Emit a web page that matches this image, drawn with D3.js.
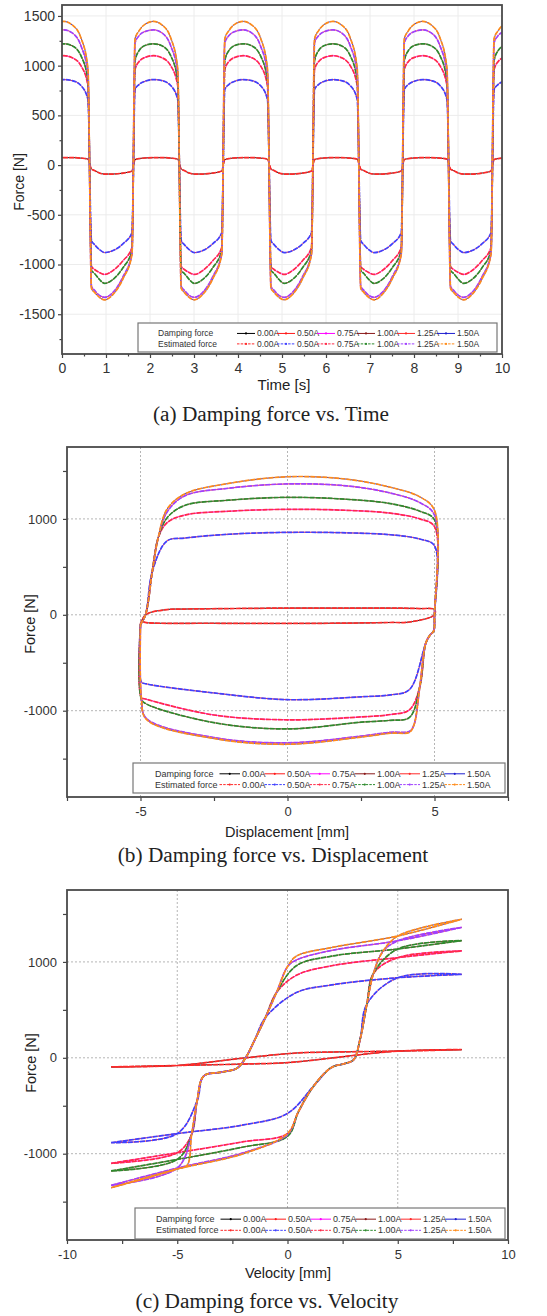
<!DOCTYPE html>
<html>
<head>
<meta charset="utf-8">
<script src="https://cdn.jsdelivr.net/npm/d3@7"></script>
<style>
body { margin: 0; background: #fff; }
svg { display: block; font-family: "Liberation Sans", Arial, sans-serif; }
.cap { font-family: "Liberation Serif", "Times New Roman", serif; }
</style>
</head>
<body>
<svg id="chart" width="547" height="1316"></svg>
<script>
// ---- donnees ----
var currents = ["0.00A", "0.50A", "0.75A", "1.00A", "1.25A", "1.50A"];
var dampColors = ["#000000", "#ff1a1a", "#ff00ff", "#8b1a1a", "#ff2a2a", "#1f1fd0"];
var estColors = ["#ff2a2a", "#4040ff", "#ff2a4a", "#2e8b2e", "#a040ff", "#ff8c1a"];

// (a) force / temps : fronts montants de chaque cycle, points d'un cycle
var cycleRise = [-0.41, 1.63, 3.67, 5.71, 7.75, 9.79];
var tauPos = [0.03, 0.12, 0.27, 0.45, 0.64, 0.84, 1.0];
var tauNeg = [1.08, 1.15, 1.26, 1.38, 1.57, 1.80, 2.0];
var posLobe = [
    [55, 65, 72, 75, 75, 70, 60],
    [760, 810, 845, 860, 850, 800, 660],
    [960, 1040, 1085, 1100, 1080, 1000, 800],
    [1050, 1150, 1205, 1220, 1200, 1100, 850],
    [1230, 1300, 1345, 1360, 1330, 1200, 920],
    [1270, 1350, 1420, 1445, 1410, 1280, 970]
];
var negLobe = [
    [-40, -55, -80, -90, -90, -80, -60],
    [-760, -800, -850, -880, -860, -790, -680],
    [-1020, -1050, -1080, -1100, -1060, -960, -830],
    [-1060, -1090, -1150, -1190, -1150, -1030, -860],
    [-1220, -1260, -1310, -1330, -1280, -1120, -890],
    [-1240, -1280, -1330, -1355, -1300, -1140, -900]
];

// (b) force / deplacement
var dispUpX = [-4.1, -3.5, -2, 0, 2, 3.5, 4.5, 5.0];
var dispUpF = [
    [55, 60, 65, 70, 70, 70, 65, 55],
    [770, 800, 840, 860, 855, 835, 790, 720],
    [960, 1040, 1080, 1100, 1090, 1060, 1000, 920],
    [1010, 1140, 1195, 1225, 1205, 1160, 1080, 990],
    [1070, 1240, 1320, 1365, 1345, 1270, 1170, 1040],
    [1100, 1260, 1370, 1440, 1415, 1330, 1230, 1090]
];
var dispDownX = [4.15, 3.5, 2.5, 0, -2.5, -4.8, -4.97];
var dispDownF = [
    [-75, -80, -85, -90, -88, -82, -70],
    [-780, -835, -855, -885, -815, -720, -700],
    [-990, -1040, -1065, -1095, -1045, -880, -860],
    [-1070, -1100, -1120, -1190, -1125, -930, -880],
    [-1215, -1225, -1265, -1335, -1280, -1080, -870],
    [-1225, -1235, -1275, -1350, -1290, -1090, -870]
];
var riseX = [-5.0, -4.83, -4.6, -4.4];
var riseF = [-100, 0, 450, 800];
var dropX = [5.0, 4.97, 4.85, 4.7, 4.5, 4.3];
var dropF = [0, -170, -210, -300, -750, -1150];

// (c) force / vitesse
var velLowX = [-8, -5, -2, 0];
var velLowF = [
    [-95, -80, -65, -50],
    [-885, -790, -700, -580],
    [-1100, -990, -875, -790],
    [-1180, -1060, -930, -820],
    [-1330, -1150, -990, -800],
    [-1355, -1160, -1000, -790]
];
var velUpX = [0.4, 2, 5, 7.9];
var velUpF = [
    [50, 60, 70, 85],
    [680, 760, 835, 870],
    [860, 960, 1045, 1115],
    [960, 1060, 1135, 1222],
    [1020, 1120, 1220, 1360],
    [1060, 1150, 1270, 1445]
];
var accelX = [0.5, 1.2, 2.0, 2.6, 3.0, 3.3, 3.6, 3.9, 4.3];
var accelF = [-560, -290, -100, -60, -20, 200, 560, 880, 1100];
var decelX = [0, -0.5, -1.0, -1.5, -1.9, -2.3, -3.0, -3.8, -4.1, -4.35, -4.55];
var decelF = [950, 680, 420, 180, 0, -110, -150, -190, -450, -800, -1120];

// ---- construction ----
var svg = d3.select("#chart");
svg.append("rect").attr("width", 547).attr("height", 1316).attr("fill", "#fff");

var xa = d3.scaleLinear().domain([0, 10]).range([62, 502]);
var ya = d3.scaleLinear().domain([-1900, 1610]).range([354, 5]);
var xb = d3.scaleLinear().domain([-7.5, 7.5]).range([67, 508]);
var yb = d3.scaleLinear().domain([-1900, 1750]).range([797, 447]);
var xc = d3.scaleLinear().domain([-10, 10]).range([67, 508]);
var yc = d3.scaleLinear().domain([-1900, 1750]).range([1240, 890]);

function fmt(d) { return String(d); }

function cadre(id, x, y, opt) {
    var x0 = x.range()[0], x1 = x.range()[1], y0 = y.range()[1], y1 = y.range()[0];
    var g = svg.append("g");
    svg.append("clipPath").attr("id", id).append("rect")
        .attr("x", x0).attr("y", y0).attr("width", x1 - x0).attr("height", y1 - y0);

    // grille
    var grid = g.append("g").attr("class", "grid");
    grid.selectAll("line.gx").data(opt.gridX).enter().append("line")
        .attr("x1", x).attr("x2", x).attr("y1", y0).attr("y2", y1);
    grid.selectAll("line.gy").data(opt.gridY).enter().append("line")
        .attr("y1", y).attr("y2", y).attr("x1", x0).attr("x2", x1);
    grid.selectAll("line")
        .attr("stroke", opt.gridColor)
        .attr("stroke-width", 1)
        .attr("stroke-dasharray", opt.gridDash);

    // axes
    g.append("g").attr("transform", "translate(0," + y1 + ")")
        .call(d3.axisBottom(x).tickValues(opt.xMajor).tickFormat(fmt).tickSize(4).tickPadding(opt.xPad));
    g.append("g").attr("transform", "translate(0," + y1 + ")")
        .call(d3.axisBottom(x).tickValues(opt.xMinor).tickFormat("").tickSize(opt.minorLen));
    g.append("g").attr("transform", "translate(" + x0 + ",0)")
        .call(d3.axisLeft(y).tickValues(opt.yMajor).tickFormat(fmt).tickSize(4).tickPadding(opt.yPad));
    g.append("g").attr("transform", "translate(" + x0 + ",0)")
        .call(d3.axisLeft(y).tickValues(opt.yMinor).tickFormat("").tickSize(opt.minorLen));
    g.selectAll(".domain").remove();
    g.selectAll(".tick line").attr("stroke", "#444").attr("stroke-width", 1.2);
    g.selectAll(".tick text")
        .attr("font-family", "'Liberation Sans', Arial, sans-serif")
        .attr("font-size", opt.fontSize).attr("fill", "#333");

    var plot = g.append("g").attr("clip-path", "url(#" + id + ")");
    g.append("rect")
        .attr("x", x0).attr("y", y0).attr("width", x1 - x0).attr("height", y1 - y0)
        .attr("fill", "none").attr("stroke", "#4a4a4a").attr("stroke-width", 1.8);
    return plot;
}

function traces(plot, line, series) {
    // courbes mesurees puis estimees par dessus
    series.forEach(function(pts, i) {
        plot.append("path").attr("d", line(pts)).attr("fill", "none")
            .attr("stroke", dampColors[i]).attr("stroke-width", 0.9);
    });
    series.forEach(function(pts, i) {
        plot.append("path").attr("d", line(pts)).attr("fill", "none")
            .attr("stroke", estColors[i]).attr("stroke-width", 1.7)
            .attr("stroke-dasharray", "5,1");
    });
}

function legende(box, textX, lab0, dx, fs) {
    var g = svg.append("g");
    g.append("rect").attr("x", box[0]).attr("y", box[1]).attr("width", box[2]).attr("height", box[3])
        .attr("fill", "#fff").attr("stroke", "#777").attr("stroke-width", 1.2);
    var rows = [["Damping force", dampColors, null], ["Estimated force", estColors, "2.5,1.2"]];
    var rowY = [box[1] + box[3] * 0.36, box[1] + box[3] * 0.72];
    rows.forEach(function(r, k) {
        var yy = rowY[k];
        g.append("text").attr("x", textX).attr("y", yy + fs * 0.35).attr("font-size", fs)
            .attr("fill", "#333").text(r[0]);
        currents.forEach(function(c, i) {
            var lx = lab0 + i * dx;
            g.append("line").attr("x1", lx - dx * 0.5).attr("x2", lx - 2)
                .attr("y1", yy).attr("y2", yy).attr("stroke", r[1][i]).attr("stroke-width", 1)
                .attr("stroke-dasharray", r[2]);
            g.append("circle").attr("cx", lx - dx * 0.25 - 1).attr("cy", yy).attr("r", 1.1).attr("fill", r[1][i]);
            g.append("text").attr("x", lx).attr("y", yy + fs * 0.35).attr("font-size", fs)
                .attr("fill", "#333").text(c);
        });
    });
}

function texte(x, y, s, size, cls, rot) {
    var t = svg.append("text").attr("text-anchor", "middle").attr("font-size", size)
        .attr("fill", "#222").text(s);
    if (cls) t.attr("class", cls);
    if (rot) t.attr("transform", "translate(" + x + "," + y + ") rotate(-90)");
    else t.attr("x", x).attr("y", y);
}

// ---------- (a) ----------
var pa = cadre("clipA", xa, ya, {
    gridX: d3.range(1, 10), gridY: [-1500, -1000, -500, 0, 500, 1000, 1500],
    gridColor: "#ececec", gridDash: null,
    xMajor: d3.range(0, 11), xMinor: d3.range(0.5, 10, 1),
    yMajor: [-1500, -1000, -500, 0, 500, 1000, 1500], yMinor: [-1750, -1250, -750, -250, 250, 750, 1250],
    minorLen: 2.5, xPad: 5, yPad: 3, fontSize: 14
});
var timeSeries = currents.map(function(c, i) {
    var pts = [];
    cycleRise.forEach(function(r) {
        tauPos.forEach(function(t, k) { pts.push([r + t, posLobe[i][k]]); });
        tauNeg.forEach(function(t, k) { pts.push([r + t, negLobe[i][k]]); });
    });
    return pts;
});
var lineA = d3.line().x(function(d) { return xa(d[0]); }).y(function(d) { return ya(d[1]); })
    .curve(d3.curveMonotoneX);
traces(pa, lineA, timeSeries);
legende([138, 323, 359, 29], 158, 257, 40, 8.5);
texte(284, 390, "Time [s]", 15);
texte(24, 182, "Force [N]", 14, null, true);
texte(271, 421, "(a) Damping force vs. Time", 21.3, "cap");

// ---------- (b) ----------
var pb = cadre("clipB", xb, yb, {
    gridX: [-5, 0, 5], gridY: [-1000, 0, 1000],
    gridColor: "#b5b5b5", gridDash: "2,2",
    xMajor: [-5, 0, 5], xMinor: [-7.5, -2.5, 2.5, 7.5],
    yMajor: [-1000, 0, 1000], yMinor: [-1500, -500, 500, 1500],
    minorLen: 4, xPad: 6, yPad: 6, fontSize: 13
});
var dispSeries = currents.map(function(c, i) {
    var up = dispUpF[i], dn = dispDownF[i], pts = [];
    riseX.forEach(function(x, k) { if (riseF[k] < up[0] - 40) pts.push([x, riseF[k]]); });
    dispUpX.forEach(function(x, k) { pts.push([x, up[k]]); });
    dropX.forEach(function(x, k) { if (dropF[k] > dn[0] + 40) pts.push([x, dropF[k]]); });
    dispDownX.forEach(function(x, k) { pts.push([x, dn[k]]); });
    pts.push(pts[0]);
    return pts;
});
var lineB = d3.line().x(function(d) { return xb(d[0]); }).y(function(d) { return yb(d[1]); })
    .curve(d3.curveCatmullRom.alpha(0.5));
traces(pb, lineB, dispSeries);
legende([133, 763, 372, 30], 155, 242, 45, 9);
texte(287, 837, "Displacement [mm]", 14.5);
texte(35, 624, "Force [N]", 14.5, null, true);
texte(273, 862, "(b) Damping force vs. Displacement", 21.3, "cap");

// ---------- (c) ----------
var pc = cadre("clipC", xc, yc, {
    gridX: [-5, 0, 5], gridY: [-1000, 0, 1000],
    gridColor: "#b5b5b5", gridDash: "2,2",
    xMajor: [-10, -5, 0, 5, 10], xMinor: [-7.5, -2.5, 2.5, 7.5],
    yMajor: [-1000, 0, 1000], yMinor: [-1500, -500, 500, 1500],
    minorLen: 4, xPad: 6, yPad: 6, fontSize: 13
});
var velSeries = [];
currents.forEach(function(c, i) {
    var lo = velLowF[i], up = velUpF[i];
    var acc = [], dec = [];
    velLowX.forEach(function(x, k) { acc.push([x, lo[k]]); });
    accelX.forEach(function(x, k) { if (accelF[k] > lo[3] + 30 && accelF[k] < up[2] - 60) acc.push([x, accelF[k]]); });
    acc.push([velUpX[2], up[2]], [velUpX[3], up[3]]);
    for (var k = velUpX.length - 1; k >= 0; k--) dec.push([velUpX[k], up[k]]);
    decelX.forEach(function(x, k) { if (decelF[k] < up[0] - 30 && decelF[k] > lo[1] + 30) dec.push([x, decelF[k]]); });
    dec.push([velLowX[1], lo[1]], [velLowX[0], lo[0]]);
    velSeries.push(acc.concat(dec.slice(1)));
});
var lineC = d3.line().x(function(d) { return xc(d[0]); }).y(function(d) { return yc(d[1]); })
    .curve(d3.curveCatmullRom.alpha(0.5));
traces(pc, lineC, velSeries);
legende([135, 1208, 370, 31], 156, 243, 45, 9);
texte(288, 1278, "Velocity [mm]", 14.5);
texte(36, 1063, "Force [N]", 14.5, null, true);
texte(267, 1308, "(c) Damping force vs. Velocity", 21.3, "cap");
</script>
</body>
</html>
